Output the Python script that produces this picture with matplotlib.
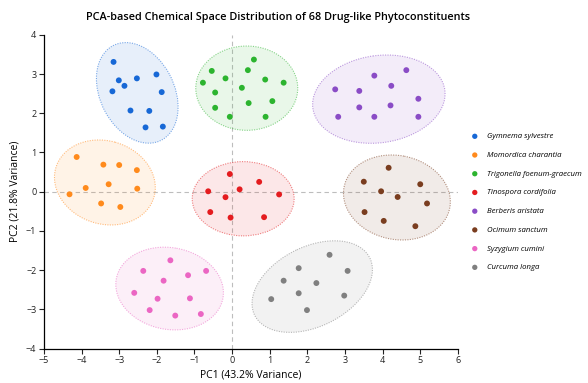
import numpy as np
import matplotlib
matplotlib.use("Agg")
import matplotlib.pyplot as plt
from matplotlib.patches import Ellipse

plt.rcParams['font.family'] = ['Open Sans', 'DejaVu Sans']

species = ["Gymnema sylvestre", "Momordica charantia", "Trigonella foenum-graecum",
           "Tinospora cordifolia", "Berberis aristata", "Ocimum sanctum",
           "Syzygium cumini", "Curcuma longa"]
colors = ["#1768d6", "#ff8a1c", "#2cb42f", "#e41c1f", "#8a4cc6", "#7a3d1f", "#eb66c3", "#808080"]

gym_x = [-3.15, -3.01, -2.86, -3.18, -2.53, -2.01, -1.87, -2.70, -2.20, -2.30, -1.84]
gym_y = [3.31, 2.84, 2.70, 2.56, 2.89, 2.99, 2.54, 2.07, 2.06, 1.64, 1.66]
mom_x = [-4.13, -3.42, -3.00, -2.53, -3.28, -3.89, -2.52, -4.32, -3.48, -2.97]
mom_y = [0.885, 0.69, 0.68, 0.55, 0.19, 0.095, 0.077, -0.066, -0.30, -0.39]
tri_x = [0.58, -0.54, 0.42, -0.175, -0.775, 0.88, 1.37, 0.26, -0.45, 1.07, 0.44, -0.45, -0.06, 0.89]
tri_y = [3.37, 3.08, 3.10, 2.89, 2.78, 2.86, 2.78, 2.65, 2.53, 2.31, 2.26, 2.14, 1.91, 1.91]
tin_x = [-0.06, 0.72, -0.635, 0.20, -0.175, 1.25, -0.58, 0.85, -0.04]
tin_y = [0.45, 0.25, 0.01, 0.06, -0.14, -0.07, -0.52, -0.65, -0.66]
ber_x = [3.78, 4.63, 2.74, 3.38, 4.23, 4.95, 3.38, 4.21, 2.82, 3.78, 4.95]
ber_y = [2.96, 3.10, 2.61, 2.57, 2.70, 2.37, 2.15, 2.20, 1.91, 1.91, 1.91]
oci_x = [4.16, 3.50, 5.00, 3.96, 4.40, 5.18, 3.52, 4.03, 4.87]
oci_y = [0.61, 0.255, 0.19, 0.01, -0.135, -0.30, -0.52, -0.745, -0.88]
syz_x = [-1.64, -2.36, -1.17, -0.69, -1.82, -2.60, -1.98, -1.12, -2.19, -1.51, -0.83]
syz_y = [-1.75, -2.02, -2.13, -2.02, -2.27, -2.58, -2.73, -2.72, -3.02, -3.16, -3.12]
cur_x = [2.59, 1.77, 3.07, 1.37, 2.24, 1.77, 2.98, 1.04, 1.99]
cur_y = [-1.61, -1.95, -2.02, -2.27, -2.33, -2.59, -2.65, -2.74, -3.02]

groups_x = [gym_x, mom_x, tri_x, tin_x, ber_x, oci_x, syz_x, cur_x]
groups_y = [gym_y, mom_y, tri_y, tin_y, ber_y, oci_y, syz_y, cur_y]

# cluster region ellipses: centre, half-extent along x / y, tilt correlation
ell_cx = [-2.52, -3.38, 0.39, 0.295, 3.90, 4.38, -1.66, 2.13]
ell_cy = [2.52, 0.235, 2.64, -0.18, 2.36, -0.148, -2.47, -2.42]
ell_rx = [1.085, 1.34, 1.355, 1.354, 1.76, 1.42, 1.43, 1.60]
ell_ry = [1.283, 1.084, 1.075, 0.947, 1.126, 1.084, 1.055, 1.168]
ell_r = [-0.28, -0.12, 0.0, 0.0, 0.12, -0.10, -0.10, 0.37]

xticks = [-5, -4, -3, -2, -1, 0, 1, 2, 3, 4, 5, 6]
yticks = [-4, -3, -2, -1, 0, 1, 2, 3, 4]

fig = plt.figure(figsize=(5.88, 3.83), dpi=100)
ax = fig.add_axes([0.0747, 0.090, 0.704, 0.819])

ax.axhline(0, color="#bdbdbd", lw=0.8, ls=(0, (4, 3)), zorder=0)
ax.axvline(0, color="#bdbdbd", lw=0.8, ls=(0, (4, 3)), zorder=0)

for i in range(len(species)):
    sxx = ell_rx[i] ** 2
    syy = ell_ry[i] ** 2
    sxy = ell_r[i] * ell_rx[i] * ell_ry[i]
    vals, vecs = np.linalg.eigh(np.array([[sxx, sxy], [sxy, syy]]))
    order = vals.argsort()[::-1]
    vals, vecs = vals[order], vecs[:, order]
    ang = np.degrees(np.arctan2(vecs[1, 0], vecs[0, 0]))
    w, h = 2 * np.sqrt(vals)
    ax.add_patch(Ellipse((ell_cx[i], ell_cy[i]), w, h, angle=ang,
                         facecolor=colors[i], alpha=0.10, edgecolor="none", zorder=1))
    ax.add_patch(Ellipse((ell_cx[i], ell_cy[i]), w, h, angle=ang,
                         facecolor="none", edgecolor=colors[i], alpha=0.55,
                         lw=0.8, ls=(0, (1, 1.2)), zorder=2))

handles = []
for i in range(len(species)):
    hnd = ax.scatter(groups_x[i], groups_y[i], s=18, color=colors[i],
                     edgecolors="none", zorder=3, label=species[i])
    handles.append(hnd)

ax.set_xlim(-5, 6)
ax.set_ylim(-4, 4)
ax.set_xticks(xticks)
ax.set_yticks(yticks)
ax.tick_params(labelsize=6.5, length=3.5, width=0.8, colors="#222222", pad=2)
for s in ["top", "right"]:
    ax.spines[s].set_visible(False)
for s in ["left", "bottom"]:
    ax.spines[s].set_linewidth(0.9)

ax.set_xlabel("PC1 (43.2% Variance)", fontsize=7.5, labelpad=3)
ax.set_ylabel("PC2 (21.8% Variance)", fontsize=7.5, labelpad=4)

fig.text(278 / 588, 1 - 17.6 / 383,
         "PCA-based Chemical Space Distribution of 68 Drug-like Phytoconstituents",
         ha="center", va="center", fontsize=7.8, fontweight="semibold")

leg = fig.legend(handles=handles, loc="upper left", bbox_to_anchor=(467 / 588, 1 - 129 / 383),
                 frameon=False, fontsize=5.6, handlelength=1.0, handletextpad=1.1,
                 labelspacing=1.45, borderpad=0, markerscale=0.9)
for t in leg.get_texts():
    t.set_fontstyle("italic")

fig.savefig("out.png", dpi=100)
